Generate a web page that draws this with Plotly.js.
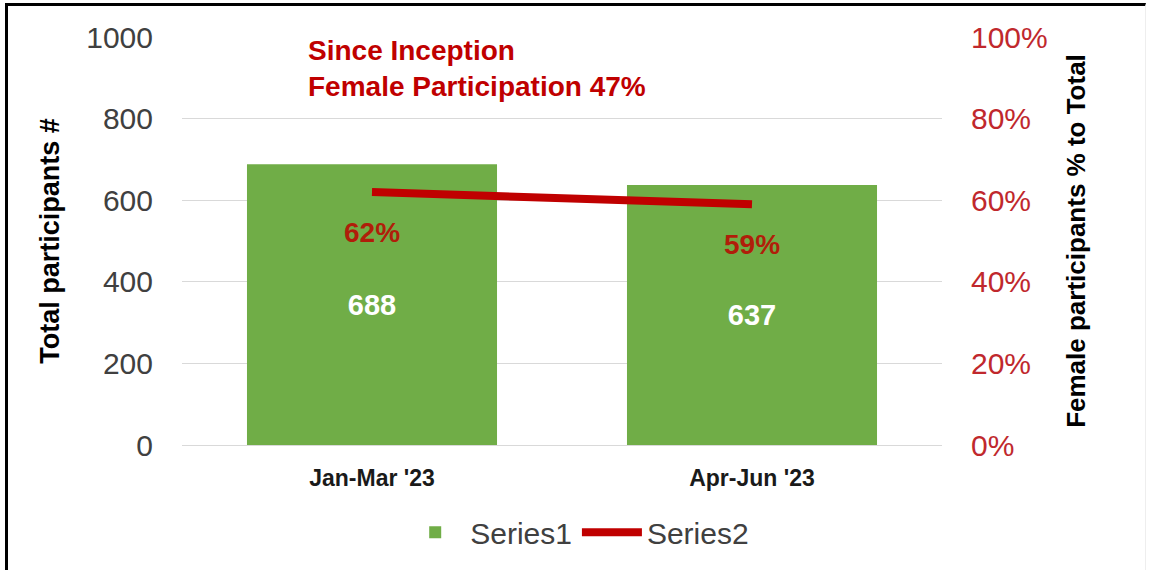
<!DOCTYPE html>
<html>
<head>
<meta charset="utf-8">
<script src="https://cdn.plot.ly/plotly-3.0.1.min.js"></script>
<style>
html,body{margin:0;padding:0;background:#fff;}
#wrap{position:relative;width:1150px;height:570px;overflow:hidden;}
#chart{position:absolute;left:0;top:0;width:1150px;height:570px;}
#frame{position:absolute;left:5px;top:3px;width:1141px;height:567px;border-left:3px solid #000;border-top:3px solid #000;border-right:1px solid #eeeeee;box-sizing:border-box;pointer-events:none;}
</style>
</head>
<body>
<div id="wrap"><div id="chart"></div><div id="frame"></div></div>
<script>
const categories = ["Jan-Mar '23", "Apr-Jun '23"];
const totalParticipants = [688, 637];
const femaleShare = [0.62, 0.59];
const leftTicks = [0, 200, 400, 600, 800, 1000];
const rightTicks = [0, 0.2, 0.4, 0.6, 0.8, 1.0];
const noteLines = ["Since Inception", "Female Participation 47%"];

const FONT = "Arial, 'Liberation Sans', sans-serif";
const GREEN = "#70AD47";
const RED = "#C00000";

const bars = {
  type: 'bar', name: 'Series1', x: categories, y: totalParticipants,
  marker: {color: GREEN}, width: 0.658,
  text: totalParticipants.map(String), textposition: 'inside', insidetextanchor: 'middle',
  textfont: {family: FONT, size: 29, color: '#ffffff', weight: 'bold'},
  textangle: 0, hoverinfo: 'skip'
};
const line = {
  type: 'scatter', mode: 'lines', name: 'Series2', x: categories, y: femaleShare, yaxis: 'y2',
  line: {color: RED, width: 8}, hoverinfo: 'skip'
};

const annotations = femaleShare.map((v, i) => ({
  x: categories[i], y: v, xref: 'x', yref: 'y2', yshift: -40, showarrow: false,
  text: '<b>' + Math.round(v * 100) + '%</b>',
  font: {family: FONT, size: 28, color: '#B01E0A'}
}));
annotations.push({
  xref: 'paper', yref: 'paper', x: (306 - 182) / 760, y: 1.01, xanchor: 'left', yanchor: 'top',
  showarrow: false, align: 'left',
  text: noteLines.map(s => '<b>' + s + '</b>').join('<br>'),
  font: {family: FONT, size: 28, color: RED}
});

const layout = {
  width: 1150, height: 570,
  margin: {l: 182, r: 208, t: 37, b: 123},
  paper_bgcolor: '#ffffff', plot_bgcolor: '#ffffff',
  showlegend: true,
  legend: {orientation: 'h', x: 0.52, xanchor: 'center', y: -0.15, yanchor: 'top',
    font: {family: FONT, size: 30, color: '#404040'}, itemwidth: 60, traceorder: 'normal'},
  xaxis: {
    type: 'category', range: [-0.5, 1.5], showgrid: false, showline: true, linecolor: '#d9d9d9', linewidth: 1,
    tickfont: {family: FONT, size: 23, color: '#1a1a1a', weight: 'bold'}, ticks: '', ticklabelstandoff: 12,
    fixedrange: true
  },
  yaxis: {
    range: [0, 1000], tickvals: leftTicks, ticktext: leftTicks.map(String),
    showgrid: true, gridcolor: '#d9d9d9', gridwidth: 1, zeroline: false, showline: false,
    tickfont: {family: FONT, size: 30, color: '#404040'}, ticks: '', ticklabelstandoff: 28,
    title: {text: '<b>Total participants #</b>', font: {family: FONT, size: 27, color: '#000000'}, standoff: 18},
    fixedrange: true
  },
  yaxis2: {
    overlaying: 'y', side: 'right', range: [0, 1], tickvals: rightTicks,
    ticktext: rightTicks.map(v => Math.round(v * 100) + '%'),
    showgrid: false, zeroline: false, showline: false,
    tickfont: {family: FONT, size: 30, color: '#C0282D'}, ticks: '', ticklabelstandoff: 28,
    title: {text: '<b>Female participants % to Total</b>', font: {family: FONT, size: 26, color: '#000000'}, standoff: 20},
    fixedrange: true
  },
  annotations: annotations,
  bargap: 0.342
};

Plotly.newPlot('chart', [bars, line], layout, {displayModeBar: false, staticPlot: true});
</script>
</body>
</html>
